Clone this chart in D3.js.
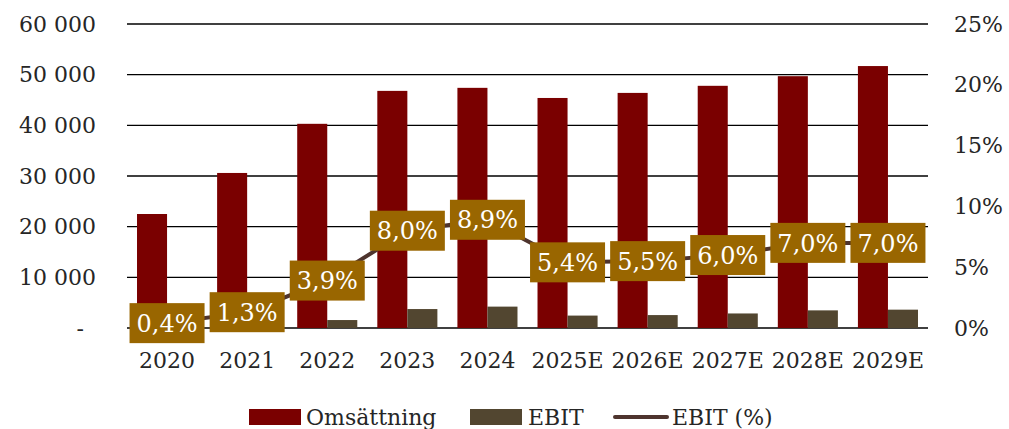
<!DOCTYPE html>
<html>
<head>
<meta charset="utf-8">
<script src="https://cdn.jsdelivr.net/npm/d3@7"></script>
<style>
body { margin: 0; background: #fff; }
text { font-family: "DejaVu Serif", serif; fill: #262626; }
</style>
</head>
<body>
<svg width="1009" height="429"></svg>
<script>
var years = ["2020", "2021", "2022", "2023", "2024", "2025E", "2026E", "2027E", "2028E", "2029E"];
var omsattning = [22500, 30600, 40300, 46800, 47400, 45400, 46400, 47800, 49700, 51700];
var ebit = [90, 400, 1570, 3740, 4220, 2450, 2550, 2870, 3480, 3620];
var ebitPct = [0.4, 1.3, 3.9, 8.0, 8.9, 5.4, 5.5, 6.0, 7.0, 7.0];
var leftTicks = [0, 10000, 20000, 30000, 40000, 50000, 60000];
var rightTicks = [0, 5, 10, 15, 20, 25];

var svg = d3.select("svg"),
    margin = {top: 24, right: 81, bottom: 101, left: 127},
    width = 1009 - margin.left - margin.right,
    height = 429 - margin.top - margin.bottom;
var g = svg.append("g").attr("transform", "translate(" + margin.left + "," + margin.top + ")");

var x = d3.scaleBand().domain(years).range([0, width]);
var y = d3.scaleLinear().domain([0, 60000]).range([height, 0]);
var y2 = d3.scaleLinear().domain([0, 25]).range([height, 0]);
var barW = x.bandwidth() * 0.375;

// gridlines
g.selectAll(".grid")
    .data(leftTicks)
    .enter().append("line")
    .attr("x1", 0).attr("x2", width)
    .attr("y1", function(d) { return y(d); })
    .attr("y2", function(d) { return y(d); })
    .attr("stroke", "#000")
    .attr("stroke-width", 1.3);

// left axis labels
var fmt = function(d) { return d === 0 ? "-" : d3.format(",")(d).replace(/,/g, " "); };
g.append("g")
    .call(d3.axisLeft(y).tickValues(leftTicks).tickSize(0).tickPadding(31).tickFormat(fmt))
    .call(function(a) { a.select(".domain").remove(); })
    .selectAll("text")
    .style("font-size", "22px")
    .attr("fill", "#262626")
    .attr("font-family", "DejaVu Serif")
    .attr("dx", function(d) { return d === 0 ? -12 : 0; });

// right axis labels
g.append("g")
    .attr("transform", "translate(" + width + ",0)")
    .call(d3.axisRight(y2).tickValues(rightTicks).tickSize(0).tickPadding(26).tickFormat(function(d) { return d + "%"; }))
    .call(function(a) { a.select(".domain").remove(); })
    .selectAll("text")
    .style("font-size", "22px")
    .attr("fill", "#262626")
    .attr("font-family", "DejaVu Serif");

// x axis labels
g.append("g")
    .attr("transform", "translate(0," + height + ")")
    .call(d3.axisBottom(x).tickSize(0).tickPadding(24))
    .call(function(a) { a.select(".domain").remove(); })
    .selectAll("text")
    .style("font-size", "22px")
    .attr("fill", "#262626")
    .attr("font-family", "DejaVu Serif");

// bars
g.selectAll(".oms")
    .data(omsattning)
    .enter().append("rect")
    .attr("x", function(d, i) { return x(years[i]) + x.bandwidth() / 2 - barW; })
    .attr("y", function(d) { return y(d); })
    .attr("width", barW)
    .attr("height", function(d) { return height - y(d); })
    .attr("fill", "#7a0000");
g.selectAll(".ebit")
    .data(ebit)
    .enter().append("rect")
    .attr("x", function(d, i) { return x(years[i]) + x.bandwidth() / 2; })
    .attr("y", function(d) { return y(d); })
    .attr("width", barW)
    .attr("height", function(d) { return height - y(d); })
    .attr("fill", "#524630");

// EBIT % line
var line = d3.line()
    .x(function(d, i) { return x(years[i]) + x.bandwidth() / 2; })
    .y(function(d) { return y2(d); });
g.append("path")
    .datum(ebitPct)
    .attr("fill", "none")
    .attr("stroke", "#4e342e")
    .attr("stroke-width", 4)
    .attr("stroke-linejoin", "round")
    .attr("d", line);

// labels
var lab = g.selectAll(".lab")
    .data(ebitPct)
    .enter().append("g")
    .attr("transform", function(d, i) {
        return "translate(" + (x(years[i]) + x.bandwidth() / 2) + "," + y2(d) + ")";
    });
lab.append("rect")
    .attr("x", -37.5).attr("y", -20)
    .attr("width", 75).attr("height", 40)
    .attr("fill", "#996600");
lab.append("text")
    .attr("text-anchor", "middle")
    .attr("dy", "0.36em")
    .style("font-size", "24px")
    .style("fill", "#fff")
    .text(function(d) { return d.toFixed(1).replace(".", ",") + "%"; });

// legend
var legend = svg.append("g").attr("class", "legend");
legend.append("rect").attr("x", 249).attr("y", 409).attr("width", 52).attr("height", 16).attr("fill", "#7a0000");
legend.append("text").attr("x", 306).attr("y", 425).style("font-size", "22px").text("Omsättning");
legend.append("rect").attr("x", 470).attr("y", 409).attr("width", 52).attr("height", 16).attr("fill", "#524630");
legend.append("text").attr("x", 528).attr("y", 425).style("font-size", "22px").text("EBIT");
legend.append("line").attr("x1", 615).attr("x2", 667).attr("y1", 417).attr("y2", 417)
    .attr("stroke", "#4e342e").attr("stroke-width", 4).attr("stroke-linecap", "round");
legend.append("text").attr("x", 672).attr("y", 425).style("font-size", "22px").text("EBIT (%)");
</script>
</body>
</html>
